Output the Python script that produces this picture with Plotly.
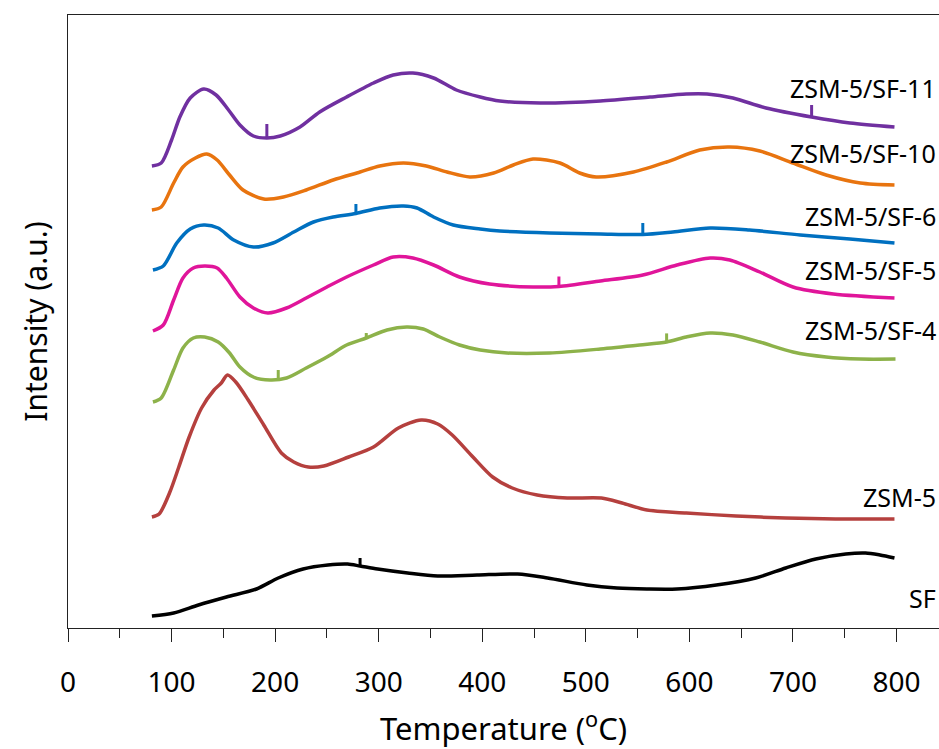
import numpy as np
import plotly.graph_objects as go

# TPD profiles: temperature (°C) vs. stacked intensity (a.u., offset per sample)
t_sf11 = [81, 90, 100, 108, 118, 131, 143, 155, 166, 179, 192, 205, 224, 243, 269, 295, 314, 333, 353,
          375, 398, 417, 456, 514, 562, 597, 617, 642, 674, 718, 755, 798]
i_sf11 = [462, 465, 488, 511, 530, 539, 533, 518, 503, 492, 490, 492, 501, 516, 531, 545, 553, 555, 550,
          538, 531, 527, 525, 527, 531, 534, 534, 530, 520, 511, 505, 501]

t_sf10 = [81, 90, 102, 111, 123, 134, 144, 156, 169, 189, 208, 230, 256, 282, 301, 324, 346, 366, 388, 411, 430,
          449, 475, 494, 510, 546, 578, 610, 639, 668, 700, 732, 765, 798]
i_sf10 = [418, 421, 445, 461, 470, 474, 468, 453, 438, 429, 431, 438, 448, 456, 462, 465, 462, 456, 451, 455, 463,
          469, 465, 455, 451, 456, 466, 478, 481, 477, 465, 453, 445, 443]

t_sf6 = [82, 92, 105, 118, 131, 145, 160, 179, 198, 218, 237, 256, 278, 301, 324, 337, 353, 372, 398,
         417, 465, 514, 555, 584, 620, 658, 707, 755, 798]
i_sf6 = [358, 362, 385, 399, 403, 400, 388, 381, 385, 396, 406, 411, 414.5, 420, 422, 420, 411, 403, 399,
         397, 395, 394, 393.5, 396, 400, 398, 393, 389, 385]

t_sf5 = [82, 92, 102, 111, 121, 132, 144, 153, 166, 179, 193, 211, 230, 250, 269, 295, 314, 333, 353, 378, 407,
         449, 474, 514, 555, 588, 620, 639, 668, 700, 739, 798]
i_sf5 = [297, 303, 328, 350, 360, 362, 360, 350, 331, 320, 315, 320, 330, 341, 351, 363, 371, 370, 363, 351, 344,
         341, 341.5, 347, 353, 363, 370, 368, 356, 341, 334, 330]

t_sf4 = [82, 90, 102, 111, 121, 132, 145, 156, 166, 179, 195, 211, 230, 250, 269, 288, 308, 327, 343, 359, 378,
         398, 424, 465, 514, 552, 578, 597, 620, 642, 668, 700, 732, 765, 799]
i_sf4 = [226, 230, 258, 280, 290, 291, 286, 275, 261, 251, 248, 250, 260, 271, 283, 290, 298, 301, 299, 291, 283,
         278, 275, 275, 279, 283, 286, 291, 295, 293, 286, 276, 271, 269, 269]

t_zsm5 = [81, 88, 98, 107, 117, 129, 141, 148, 154, 162, 174, 189, 206, 218, 232, 247, 271, 295, 319, 341, 357,
          371, 391, 410, 429, 453, 482, 515, 535, 559, 597, 645, 693, 741, 798]
i_zsm5 = [111, 114, 135, 161, 191, 220, 238, 245, 253, 246, 228, 203, 175, 166, 161, 162, 171, 181, 200, 208, 204,
          193, 171, 151, 140, 133, 130, 130, 125, 118, 115, 112, 110, 109, 109]

t_sf = [81, 102, 126, 153, 182, 203, 227, 251, 270, 282, 299, 328, 357, 395, 434, 463, 501, 530, 559,
        588, 626, 664, 693, 722, 751, 770, 784, 798]
i_sf = [12, 15, 23, 31, 39, 50, 59, 63, 64, 62, 59, 55, 52, 53, 54, 50, 43, 40, 39, 39, 43, 50, 60, 69,
        74, 75, 73, 70]

# narrow artefact spikes on the recorded traces: temperature and spike-top intensity
spike_t_sf11, spike_i_sf11 = [192, 718], [504, 523]
spike_t_sf10, spike_i_sf10 = [], []
spike_t_sf6, spike_i_sf6 = [278, 555], [424, 405]
spike_t_sf5, spike_i_sf5 = [474], [351.5]
spike_t_sf4, spike_i_sf4 = [203, 288, 578], [258, 295, 294.6]
spike_t_zsm5, spike_i_zsm5 = [], []
spike_t_sf, spike_i_sf = [282], [70]

series = [
    ("ZSM-5/SF-11", t_sf11, i_sf11, spike_t_sf11, spike_i_sf11, "#7030A0"),
    ("ZSM-5/SF-10", t_sf10, i_sf10, spike_t_sf10, spike_i_sf10, "#E8740F"),
    ("ZSM-5/SF-6", t_sf6, i_sf6, spike_t_sf6, spike_i_sf6, "#0070C0"),
    ("ZSM-5/SF-5", t_sf5, i_sf5, spike_t_sf5, spike_i_sf5, "#E0159A"),
    ("ZSM-5/SF-4", t_sf4, i_sf4, spike_t_sf4, spike_i_sf4, "#8DB24A"),
    ("ZSM-5", t_zsm5, i_zsm5, spike_t_zsm5, spike_i_zsm5, "#B5403E"),
    ("SF", t_sf, i_sf, spike_t_sf, spike_i_sf, "#000000"),
]

# curve label positions (temperature, intensity) at the right edge
label_x = [840, 840, 840, 840, 840, 840, 840]
label_y = [540, 475, 412, 358, 298, 131, 30]

x_ticks = [0, 100, 200, 300, 400, 500, 600, 700, 800]

fig = go.Figure()
for name, t, inten, st, si, color in series:
    fig.add_trace(go.Scatter(x=t, y=inten, mode="lines", name=name,
                             line=dict(color=color, width=3.5, shape="spline", smoothing=0.8),
                             showlegend=False))
    for ts, top in zip(st, si):
        base = float(np.interp(ts, t, inten))
        fig.add_trace(go.Scatter(x=[ts, ts], y=[base, top], mode="lines",
                                 line=dict(color=color, width=3), showlegend=False, hoverinfo="skip"))

for (name, *_), lx, ly in zip(series, label_x, label_y):
    fig.add_annotation(x=lx, y=ly, xref="x", yref="y", text=name, showarrow=False,
                       xanchor="right", yanchor="middle",
                       font=dict(family="Noto Sans", size=25, color="#000000"))

fig.update_layout(
    width=939, height=749,
    margin=dict(l=68, r=0, t=15, b=121),
    paper_bgcolor="white", plot_bgcolor="white",
    font=dict(family="Noto Sans", color="#000000"),
)

fig.update_xaxes(
    range=[0, 841], tickvals=x_ticks, ticktext=[str(v) for v in x_ticks],
    showgrid=False, zeroline=False,
    showline=True, linecolor="#222222", linewidth=1.3, mirror=True,
    ticks="outside", ticklen=13, tickwidth=1, tickcolor="#222222",
    minor=dict(dtick=50, tick0=0, ticks="outside", ticklen=9, tickwidth=1, tickcolor="#222222"),
    tickfont=dict(family="Noto Sans", size=28, color="#000000"),
    ticklabelstandoff=16,
    title=dict(text="Temperature (<sup>o</sup>C)", font=dict(family="Noto Sans", size=31, color="#000000"),
               standoff=24),
)

fig.update_yaxes(
    range=[0, 613], showgrid=False, zeroline=False,
    showline=True, linecolor="#222222", linewidth=1.3, mirror=False,
    showticklabels=False, ticks="",
    title=dict(text="Intensity (a.u.)", font=dict(family="Noto Sans", size=30, color="#000000"),
               standoff=10),
)

fig.write_html("out.html")
